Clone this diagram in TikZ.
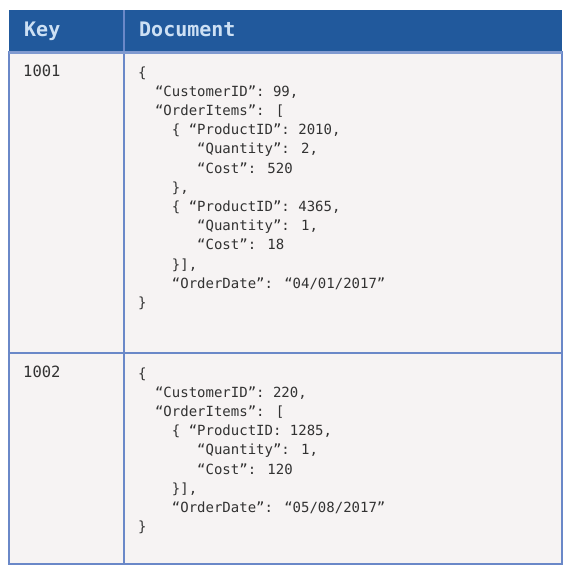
\documentclass[tikz,border=0pt]{standalone}
\usepackage{fontspec}
\newfontfamily\codefont{DejaVu Sans Mono}
\usetikzlibrary{positioning}
\definecolor{headblue}{RGB}{33,89,156}
\definecolor{gridblue}{RGB}{106,136,200}
\definecolor{headtext}{RGB}{205,224,244}
\definecolor{cellbg}{RGB}{246,243,243}
\definecolor{codegray}{RGB}{50,50,50}
\newcommand\ind[1]{\hspace*{#1\dimexpr0.602em\relax}}

\begin{document}
\begin{tikzpicture}[x=1pt,y=-1pt,
    head/.style={anchor=base west,inner sep=0pt,text=headtext,
      font=\codefont\bfseries\fontsize{20}{20}\selectfont},
    keycell/.style={anchor=base west,inner sep=0pt,text=codegray,
      font=\codefont\fontsize{15.5}{18}\selectfont},
    code/.style={anchor=base west,inner sep=0pt,align=left,text=codegray,
      font=\codefont\fontsize{14}{19.2}\selectfont}]
  \useasboundingbox (0,0) rectangle (565,576);
  % table body and header
  \fill[cellbg] (9,52) rectangle (562,564);
  \fill[headblue] (9,10) rectangle (562,52);
  \draw[gridblue,line width=1.8pt] (9,52) rectangle (562,564)
    (124,52) -- (124,564) (9,353) -- (562,353);
  \draw[gridblue,line width=1.5pt] (124,10) -- (124,52);
  \draw[gridblue!85!white,line width=3pt] (9,52) -- (562,52);

  \node[head] (hkey) at (24,36.5) {Key};
  \node[head] (hdoc) at (139,36.5) {Document};

  % base anchor sits on the last line: 77 + 12*19.2
  \node[keycell] (k1) at (23,76) {1001};
  \node[code] (d1) at (138,307.4) {%
    \{\\
    \ind2“CustomerID”: 99,\\
    \ind2“OrderItems”: [\\
    \ind4\{ “ProductID”: 2010,\\
    \ind7“Quantity”: 2,\\
    \ind7“Cost”: 520\\
    \ind4\},\\
    \ind4\{ “ProductID”: 4365,\\
    \ind7“Quantity”: 1,\\
    \ind7“Cost”: 18\\
    \ind4\}],\\
    \ind4“OrderDate”: “04/01/2017”\\
    \}};

  % 378 + 8*19.2
  \node[keycell] (k2) at (23,377) {1002};
  \node[code] (d2) at (138,531.6) {%
    \{\\
    \ind2“CustomerID”: 220,\\
    \ind2“OrderItems”: [\\
    \ind4\{ “ProductID: 1285,\\
    \ind7“Quantity”: 1,\\
    \ind7“Cost”: 120\\
    \ind4\}],\\
    \ind4“OrderDate”: “05/08/2017”\\
    \}};
\end{tikzpicture}
\end{document}
